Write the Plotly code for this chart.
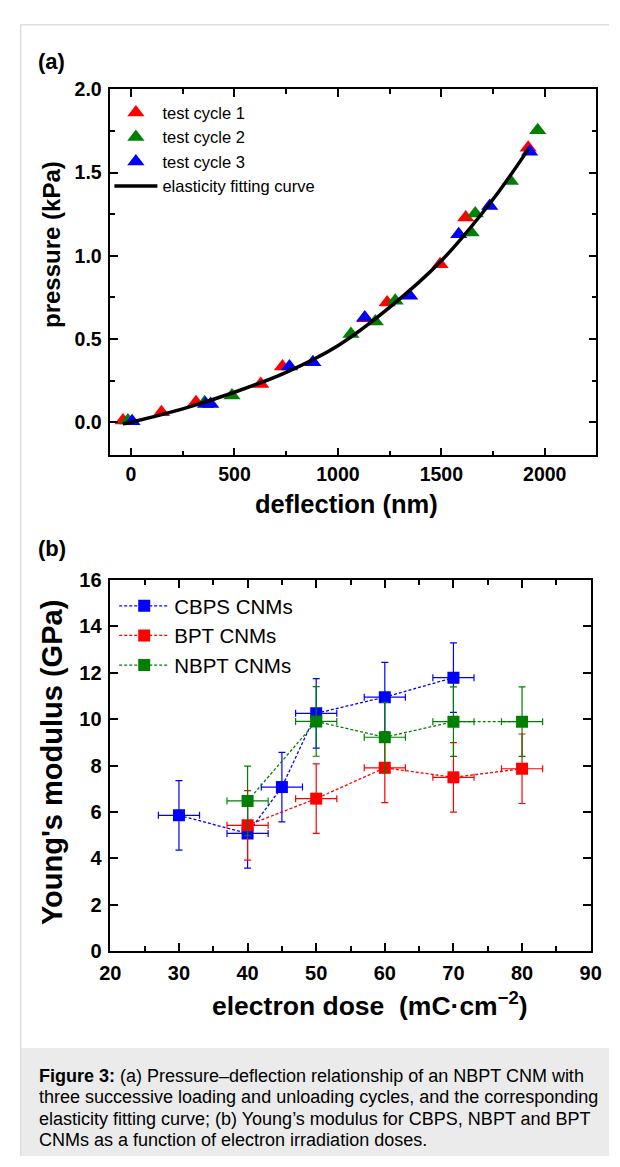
import plotly.graph_objects as go

W, H = 620, 1167


def px_x(p):
    return p / W


def px_y(p):
    return 1 - p / H


# (a) pressure vs deflection, three test cycles
cycle1_x = [-39, 147, 314, 627, 732, 1130, 1238, 1494, 1618, 1920]
cycle1_y = [0.01, 0.06, 0.12, 0.23, 0.335, 0.625, 0.72, 0.95, 1.23, 1.65]
cycle2_x = [-15, 356, 488, 1063, 1181, 1277, 1644, 1664, 1834, 1966]
cycle2_y = [0.01, 0.12, 0.16, 0.53, 0.605, 0.73, 1.14, 1.255, 1.45, 1.755]
cycle3_x = [5, 360, 385, 766, 879, 1130, 1347, 1584, 1734, 1927]
cycle3_y = [0.005, 0.11, 0.11, 0.335, 0.36, 0.63, 0.76, 1.13, 1.30, 1.625]
fit_x = [-40, 0, 250, 500, 750, 1000, 1250, 1500, 1750, 1920]
fit_y = [-0.01, 0.0, 0.08, 0.18, 0.30, 0.46, 0.69, 0.97, 1.34, 1.64]

# (b) Young's modulus vs electron dose
cbps_dose = [30, 40, 45, 50, 60, 70]
cbps_mod = [5.85, 5.07, 7.07, 10.25, 10.95, 11.79]
bpt_dose = [40, 50, 60, 70, 80]
bpt_mod = [5.42, 6.57, 7.90, 7.49, 7.86]
nbpt_dose = [40, 50, 60, 70, 80]
nbpt_mod = [6.47, 9.90, 9.22, 9.89, 9.89]
cbps_err = [1.5, 1.5, 1.5, 1.5, 1.5, 1.5]
bpt_err = [1.5, 1.5, 1.5, 1.5, 1.5]
nbpt_err = [1.5, 1.5, 1.5, 1.5, 1.5]
cbps_dose_err = [3, 3, 3, 3, 3, 3]
bpt_dose_err = [3, 3, 3, 3, 3]
nbpt_dose_err = [3, 3, 3, 3, 3]

caption_lines = [
    "<b>Figure 3:</b> (a) Pressure–deflection relationship of an NBPT CNM with",
    "three successive loading and unloading cycles, and the corresponding",
    "elasticity fitting curve; (b) Young’s modulus for CBPS, NBPT and BPT",
    "CNMs as a function of electron irradiation doses.",
]

RED, GREEN, BLUE = "#ff0000", "#008000", "#0000ff"
SANS = "Liberation Sans, Arial, sans-serif"

fig = go.Figure()

for name, xs, ys, col in [("test cycle 1", cycle1_x, cycle1_y, RED),
                          ("test cycle 2", cycle2_x, cycle2_y, GREEN),
                          ("test cycle 3", cycle3_x, cycle3_y, BLUE)]:
    fig.add_trace(go.Scatter(x=xs, y=ys, mode="markers", name=name,
                             marker=dict(symbol="triangle-up", size=15, color=col, line_width=0),
                             xaxis="x", yaxis="y", legend="legend"))
fig.add_trace(go.Scatter(x=fit_x, y=fit_y, mode="lines", name="elasticity fitting curve",
                         line=dict(color="black", width=3.5, shape="spline"),
                         xaxis="x", yaxis="y", legend="legend"))

for name, xs, ys, ex, ey, col in [("CBPS CNMs", cbps_dose, cbps_mod, cbps_dose_err, cbps_err, BLUE),
                                  ("BPT CNMs", bpt_dose, bpt_mod, bpt_dose_err, bpt_err, RED),
                                  ("NBPT CNMs", nbpt_dose, nbpt_mod, nbpt_dose_err, nbpt_err, GREEN)]:
    fig.add_trace(go.Scatter(x=xs, y=ys, mode="lines+markers", name=name,
                             line=dict(color=col, width=1.3, dash="3px,2px"),
                             marker=dict(symbol="square", size=12, color=col, line_width=0),
                             error_x=dict(type="data", array=ex, color=col, thickness=1.2, width=3.5),
                             error_y=dict(type="data", array=ey, color=col, thickness=1.2, width=3.5),
                             xaxis="x2", yaxis="y2", legend="legend2"))


def axis(size, standoff, **kw):
    d = dict(showline=True, linewidth=1.5, linecolor="black", mirror="ticks",
             ticks="inside", ticklen=8, tickwidth=1.5, tickcolor="black",
             showgrid=False, zeroline=False, ticklabelstandoff=standoff,
             tickfont=dict(family=SANS, size=size, color="black", weight="bold"))
    d.update(kw)
    return d


def minor(step, start):
    return dict(dtick=step, tick0=start, ticks="inside", ticklen=5, tickwidth=1.5, tickcolor="black")


fig.update_layout(
    width=W, height=H, margin=dict(l=0, r=0, t=0, b=0),
    paper_bgcolor="white", plot_bgcolor="white", showlegend=True,
    xaxis=axis(19.5, 0, domain=[px_x(103), px_x(607)], range=[-100, 2250],
               tickvals=[0, 500, 1000, 1500, 2000], anchor="y", minor=minor(250, 0)),
    yaxis=axis(19.5, 3, domain=[px_y(453), px_y(80)], range=[-0.2, 2.0],
               dtick=0.5, tick0=0, tickformat=".1f", anchor="x", minor=minor(0.25, 0)),
    xaxis2=axis(20, 3, domain=[px_x(103), px_x(601)], range=[20, 90],
                dtick=10, tick0=20, anchor="y2", minor=minor(5, 20)),
    yaxis2=axis(20, 3, domain=[px_y(958), px_y(580)], range=[0, 16],
                dtick=2, tick0=0, anchor="x2"),
    legend=dict(x=px_x(102), y=px_y(86), xanchor="left", yanchor="top",
                bgcolor="rgba(0,0,0,0)", itemwidth=43, tracegroupgap=0,
                font=dict(family=SANS, size=16.5, color="black")),
    legend2=dict(x=px_x(107), y=px_y(586), xanchor="left", yanchor="top",
                 bgcolor="rgba(0,0,0,0)", itemwidth=50, tracegroupgap=0,
                 font=dict(family=SANS, size=20.5, color="black")),
)

# page frame and caption box
fig.add_shape(type="line", xref="paper", yref="paper", x0=px_x(10), x1=1, y0=px_y(14), y1=px_y(14),
              line=dict(color="#dddddd", width=1.5))
fig.add_shape(type="line", xref="paper", yref="paper", x0=px_x(10), x1=px_x(10), y0=0, y1=px_y(14),
              line=dict(color="#dddddd", width=1.5))
fig.add_shape(type="rect", xref="paper", yref="paper", x0=px_x(10.5), x1=1, y0=0, y1=px_y(1057),
              line_width=0, fillcolor="#ebebeb", layer="below")

bold = dict(family=SANS, color="black", weight="bold")
labels = [
    dict(text="(a)", x=px_x(26), y=px_y(51), xanchor="left", font=dict(bold, size=22)),
    dict(text="(b)", x=px_x(26), y=px_y(548), xanchor="left", font=dict(bold, size=22)),
    dict(text="pressure (kPa)", x=px_x(42), y=px_y(238), textangle=-90, font=dict(bold, size=24)),
    dict(text="deflection (nm)", x=px_x(348), y=px_y(502), font=dict(bold, size=25.5)),
    dict(text="Young's modulus (GPa)", x=px_x(42), y=px_y(766), textangle=-90, font=dict(bold, size=29)),
    dict(text="electron dose \u00a0(mC·cm<sup>−2</sup>)", x=px_x(372), y=px_y(1012),
         font=dict(bold, size=26.5)),
]
for i, line in enumerate(caption_lines):
    labels.append(dict(text=line, x=px_x(27), y=px_y(1085 + 22 * i), xanchor="left",
                       font=dict(family=SANS, size=18, color="black")))
for a in labels:
    a.setdefault("xanchor", "center")
    fig.add_annotation(xref="paper", yref="paper", yanchor="middle", showarrow=False, **a)

fig.write_html("out.html", config={"displayModeBar": False},
               post_script="document.body.style.margin = '0';")
